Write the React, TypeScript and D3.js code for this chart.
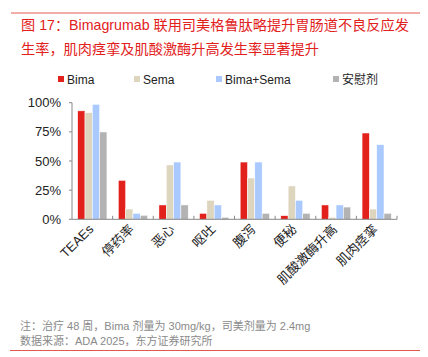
import React from "react";
import * as d3 from "d3";

const categories = ["TEAEs", "停药率", "恶心", "呕吐", "腹泻", "便秘", "肌酸激酶升高", "肌肉痉挛"];
const seriesNames = ["Bima", "Sema", "Bima+Sema", "安慰剂"];
const bima = [93, 33.4, 12.3, 5.1, 49.1, 3.1, 12.3, 74];
const sema = [91.4, 8.8, 46.6, 16.3, 35.4, 28.6, 1.7, 8.8];
const bimaSema = [98.6, 5.1, 49.1, 12.3, 49.1, 16.3, 12.3, 64];
const placebo = [74.9, 3.4, 12.3, 1.7, 5.1, 5.1, 10.5, 5.1];
const yTicks = [0, 25, 50, 75, 100];
const colors = ["#e2211c", "#ded5bf", "#a9c9ff", "#b3b3b3"];

const W = 428, H = 357;
const FONT = "'Liberation Sans', 'Noto Sans CJK SC', sans-serif";

export default function App() {
  const series = [bima, sema, bimaSema, placebo];
  const x0 = d3.scaleBand<string>().domain(categories).range([72, 397]).paddingInner(0.28).paddingOuter(0.14);
  const xOuter = d3.scaleBand<string>().domain(categories).range([72, 397]);
  const x1 = d3.scaleBand<string>().domain(seriesNames).range([0, x0.bandwidth()]);
  const y = d3.scaleLinear().domain([0, 100]).range([219.3, 102.7]);

  const legendX = [58, 134, 216, 333];

  return (
    <svg width={W} height={H} style={{ position: "absolute", left: 0, top: 0, background: "#fff" }} fontFamily={FONT}>
      <line x1={11} x2={420} y1={13} y2={13} stroke="#e25a4f" strokeWidth={1} />
      <text x={21} y={29.5} fontSize={14.2} fill="#e2211c">图 17：Bimagrumab 联用司美格鲁肽略提升胃肠道不良反应发</text>
      <text x={21} y={53.5} fontSize={14.2} fill="#e2211c">生率，肌肉痉挛及肌酸激酶升高发生率显著提升</text>

      {seriesNames.map((s, i) => (
        <g key={s}>
          <rect x={legendX[i]} y={76} width={6} height={6} fill={colors[i]} />
          <text x={legendX[i] + 9} y={83.5} fontSize={12} fill="#222">{s}</text>
        </g>
      ))}

      {yTicks.map((t) => (
        <g key={t}>
          <line x1={69} x2={72} y1={y(t)} y2={y(t)} stroke="#888" />
          <text x={61} y={y(t) + 4.5} fontSize={13} textAnchor="end" fill="#222">{t}%</text>
        </g>
      ))}
      <line x1={72} x2={72} y1={y(100)} y2={y(0)} stroke="#888" />

      {categories.map((c, ci) => (
        <g key={c}>
          {series.map((vals, si) => (
            <rect
              key={si}
              x={(x0(c) ?? 0) + (x1(seriesNames[si]) ?? 0)}
              y={y(vals[ci])}
              width={x1.bandwidth()}
              height={y(0) - y(vals[ci])}
              fill={colors[si]}
              stroke="#fff"
              strokeWidth={0.5}
            />
          ))}
        </g>
      ))}

      <line x1={72} x2={397} y1={y(0)} y2={y(0)} stroke="#888" />
      {categories.map((c) => (
        <line key={"tk" + c} x1={(xOuter(c) ?? 0) + xOuter.bandwidth()} x2={(xOuter(c) ?? 0) + xOuter.bandwidth()} y1={y(0)} y2={y(0) - 3.5} stroke="#888" />
      ))}

      {categories.map((c) => {
        const cx = (xOuter(c) ?? 0) + xOuter.bandwidth() / 2 + 2;
        const cy = 230;
        return (
          <text key={"lb" + c} x={cx} y={cy} fontSize={13} textAnchor="end" fill="#222" transform={`rotate(-45 ${cx} ${cy})`}>
            {c}
          </text>
        );
      })}

      <text x={20} y={330} fontSize={11} fill="#8a8a8a">注：治疗 48 周，Bima 剂量为 30mg/kg，司美剂量为 2.4mg</text>
      <text x={20} y={345} fontSize={11} fill="#8a8a8a">数据来源：ADA 2025，东方证券研究所</text>
      <line x1={10} x2={420} y1={350.5} y2={350.5} stroke="#e25a4f" strokeWidth={1} />
    </svg>
  );
}
